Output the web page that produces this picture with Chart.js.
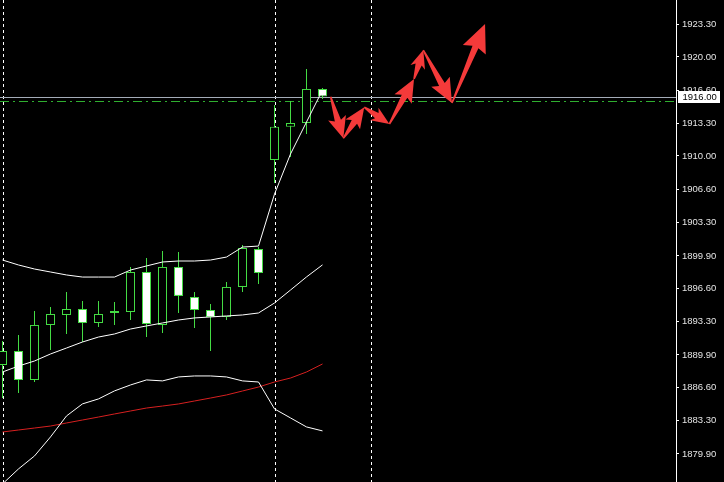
<!DOCTYPE html>
<html>
<head>
<meta charset="utf-8">
<title>Gold M15</title>
<script src="https://cdn.jsdelivr.net/npm/chart.js@4.4.1/dist/chart.umd.min.js"></script>
<style>
  html, body { margin: 0; padding: 0; background: #000; }
  #wrap { width: 724px; height: 482px; }
</style>
</head>
<body>
<div id="wrap"><canvas id="chart"></canvas></div>
<script>
// ===============================
// Candles (oldest first)
// ===============================
const opens  = [1888.89, 1890.30, 1887.37, 1892.93, 1893.94, 1894.54, 1893.13, 1894.14, 1894.24, 1898.28, 1892.93,
                1898.79, 1895.76, 1894.44, 1893.73, 1896.77, 1900.60, 1909.60, 1912.95, 1913.33, 1916.77];
const highs  = [1891.31, 1891.92, 1894.34, 1894.74, 1896.26, 1895.36, 1895.36, 1895.25, 1898.79, 1899.69, 1900.40,
                1900.30, 1896.26, 1895.05, 1897.27, 1901.01, 1900.81, 1915.15, 1915.55, 1918.78, 1916.87];
const lows   = [1885.55, 1886.06, 1887.17, 1890.40, 1892.02, 1891.21, 1892.72, 1892.93, 1893.43, 1891.71, 1892.12,
                1894.14, 1892.62, 1890.30, 1893.43, 1896.26, 1897.07, 1907.27, 1909.90, 1912.22, 1915.75];
const closes = [1890.30, 1887.37, 1892.93, 1894.04, 1894.54, 1893.13, 1894.04, 1894.34, 1898.28, 1893.03, 1898.79,
                1895.86, 1894.44, 1893.73, 1896.77, 1900.70, 1898.18, 1912.95, 1913.33, 1916.77, 1916.00];

// Bollinger bands + red moving average
const bbUpper  = [1899.49, 1898.99, 1898.58, 1898.28, 1897.98, 1897.77, 1897.77, 1897.77, 1898.48, 1898.89, 1899.29,
                  1899.39, 1899.39, 1899.49, 1899.79, 1900.80, 1900.90, 1906.15, 1910.20, 1913.43, 1916.66];
const bbMiddle = [1888.18, 1888.78, 1889.29, 1890.00, 1890.60, 1891.21, 1891.71, 1892.02, 1892.52, 1892.83, 1893.13,
                  1893.43, 1893.64, 1893.74, 1893.84, 1893.94, 1894.14, 1895.15, 1896.46, 1897.78, 1899.00];
const bbLower  = [1876.87, 1878.39, 1879.70, 1881.62, 1883.74, 1884.96, 1885.46, 1886.27, 1886.87, 1887.38, 1887.28,
                  1887.68, 1887.78, 1887.78, 1887.68, 1887.28, 1887.17, 1884.45, 1883.54, 1882.63, 1882.23];
const maRed    = [1882.12, 1882.32, 1882.52, 1882.72, 1883.03, 1883.33, 1883.63, 1883.94, 1884.24, 1884.54, 1884.74,
                  1884.95, 1885.25, 1885.55, 1885.86, 1886.26, 1886.66, 1887.17, 1887.57, 1888.18, 1888.99];

// Price axis labels
const priceTicks = [1923.30, 1920.00, 1916.60, 1913.30, 1910.00, 1906.60, 1903.30,
                    1899.90, 1896.60, 1893.30, 1889.90, 1886.60, 1883.30, 1879.90];

// Period separators (bar index) and the dash-dot level
const separators = [0, 17, 23];
const levelLine = 1915.55;

// Forecast arrows (bar index, price)
const arrowX = [20.51, 21.30, 22.61, 24.18, 25.72, 26.30, 28.09, 30.16];
const arrowY = [1915.99, 1911.78, 1914.92, 1913.23, 1917.77, 1920.70, 1915.35, 1923.33];

// ===============================
// Colours
// ===============================
const GREEN = '#44dc44';
const RED_ARROW = '#f43a3a';
const LABEL = '#e4e4e4';

const toPoints = arr => arr.map((v, i) => ({ x: i, y: v }));
const wicks = lows.map((l, i) => ({ x: i, y: [l, highs[i]] }));
const bodies = opens.map((o, i) => ({ x: i, y: [o, closes[i]] }));
const bodyColors = opens.map((o, i) => closes[i] < o ? '#ffffff' : '#000000');
const lastPrice = closes[closes.length - 1];

function drawArrow(ctx, x1, y1, x2, y2) {
  const dx = x2 - x1, dy = y2 - y1;
  const len = Math.hypot(dx, dy);
  const ux = dx / len, uy = dy / len;
  const nx = -uy, ny = ux;
  const headLen = Math.min(len * 0.5, 12 + len * 0.15);
  const headW = headLen * 0.5;
  const shaftW = 3.2;
  const bx = x2 - ux * headLen, by = y2 - uy * headLen;
  ctx.beginPath();
  ctx.moveTo(x1 + nx * 0.8, y1 + ny * 0.8);
  ctx.lineTo(bx + nx * shaftW, by + ny * shaftW);
  ctx.lineTo(bx - ux * 3 + nx * headW, by - uy * 3 + ny * headW);
  ctx.lineTo(x2, y2);
  ctx.lineTo(bx - ux * 3 - nx * headW, by - uy * 3 - ny * headW);
  ctx.lineTo(bx - nx * shaftW, by - ny * shaftW);
  ctx.lineTo(x1 - nx * 0.8, y1 - ny * 0.8);
  ctx.closePath();
  ctx.fill();
}

const overlay = {
  id: 'overlay',
  beforeDatasetsDraw(chart) {
    const { ctx, chartArea, scales: { x, y } } = chart;
    ctx.save();
    // period separators
    ctx.strokeStyle = '#ffffff';
    ctx.lineWidth = 1;
    ctx.setLineDash([3, 3]);
    separators.forEach(s => {
      const px = Math.round(x.getPixelForValue(s)) + 0.5;
      ctx.beginPath();
      ctx.moveTo(px, chartArea.top);
      ctx.lineTo(px, chartArea.bottom);
      ctx.stroke();
    });
    // dash-dot level
    ctx.strokeStyle = '#2fae2f';
    ctx.setLineDash([9, 4, 2, 4]);
    let py = Math.round(y.getPixelForValue(levelLine)) + 0.5;
    ctx.beginPath();
    ctx.moveTo(chartArea.left, py);
    ctx.lineTo(chartArea.right, py);
    ctx.stroke();
    // bid line
    ctx.strokeStyle = '#a4acb8';
    ctx.setLineDash([]);
    py = Math.round(y.getPixelForValue(lastPrice)) + 0.5;
    ctx.beginPath();
    ctx.moveTo(chartArea.left, py);
    ctx.lineTo(chartArea.right, py);
    ctx.stroke();
    ctx.restore();
  },
  afterDatasetsDraw(chart) {
    const { ctx, scales: { x, y } } = chart;
    ctx.save();
    ctx.fillStyle = RED_ARROW;
    for (let i = 0; i < arrowX.length - 1; i++) {
      drawArrow(ctx,
        x.getPixelForValue(arrowX[i]), y.getPixelForValue(arrowY[i]),
        x.getPixelForValue(arrowX[i + 1]), y.getPixelForValue(arrowY[i + 1]));
    }
    ctx.restore();
  },
  afterDraw(chart) {
    const { ctx, chartArea, scales: { y } } = chart;
    const py = Math.round(y.getPixelForValue(lastPrice));
    ctx.save();
    ctx.fillStyle = '#ffffff';
    ctx.fillRect(chartArea.right + 2, py - 6, 42, 12);
    ctx.fillStyle = '#000000';
    ctx.font = '9.5px "Liberation Sans"';
    ctx.textBaseline = 'middle';
    ctx.fillText(lastPrice.toFixed(2), chartArea.right + 6.5, py + 0.5);
    ctx.restore();
  }
};

new Chart(document.getElementById('chart'), {
  type: 'bar',
  data: {
    datasets: [
      { type: 'line', label: 'BB upper', data: toPoints(bbUpper), borderColor: '#ffffff', borderWidth: 1, pointRadius: 0, order: 1 },
      { type: 'line', label: 'BB middle', data: toPoints(bbMiddle), borderColor: '#ffffff', borderWidth: 1, pointRadius: 0, order: 1 },
      { type: 'line', label: 'BB lower', data: toPoints(bbLower), borderColor: '#ffffff', borderWidth: 1, pointRadius: 0, order: 1 },
      { type: 'line', label: 'MA', data: toPoints(maRed), borderColor: '#d62020', borderWidth: 1, pointRadius: 0, order: 1 },
      {
        label: 'body', data: bodies, backgroundColor: bodyColors, borderColor: GREEN,
        borderWidth: 1, borderSkipped: false, barThickness: 9, grouped: false, inflateAmount: 0, order: 2
      },
      {
        label: 'wick', data: wicks, backgroundColor: GREEN,
        barThickness: 1, grouped: false, inflateAmount: 0, order: 3
      }
    ]
  },
  options: {
    responsive: true,
    maintainAspectRatio: false,
    animation: false,
    layout: { padding: 0 },
    plugins: { legend: { display: false }, tooltip: { enabled: false } },
    scales: {
      x: { type: 'linear', min: -0.15625, max: 42.09375, offset: false, grid: { offset: false }, display: false },
      y: {
        position: 'right',
        min: 1877.0677,
        max: 1925.7545,
        afterBuildTicks: scale => { scale.ticks = priceTicks.map(v => ({ value: v })); },
        afterFit: scale => { scale.width = 48; scale.paddingTop = 0; scale.paddingBottom = 0; },
        grid: { drawOnChartArea: false, color: '#ffffff', tickLength: 3 },
        border: { color: '#ffffff' },
        ticks: {
          color: LABEL,
          padding: 3,
          font: { family: 'Liberation Sans', size: 9.5 },
          callback: v => Number(v).toFixed(2)
        }
      }
    }
  },
  plugins: [overlay]
});
</script>
</body>
</html>
